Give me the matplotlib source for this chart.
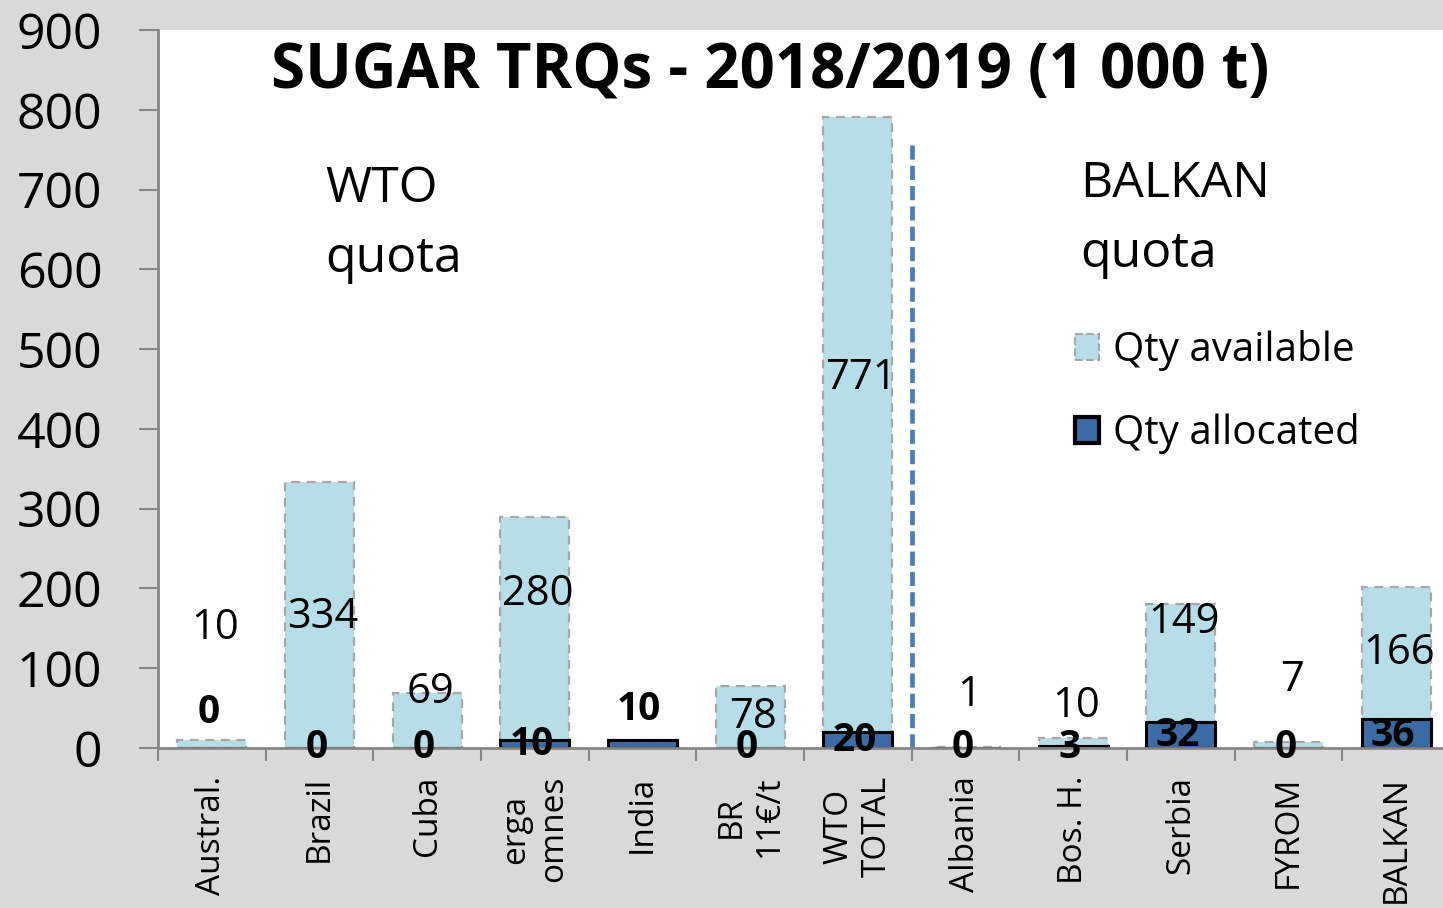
import numpy as np
import matplotlib.pyplot as plt
from matplotlib.patches import Patch

plt.rcParams['font.family'] = ['Open Sans', 'DejaVu Sans']

# Data (1 000 t)
categories = ['Austral.', 'Brazil', 'Cuba', 'erga\nomnes', 'India', 'BR\n11€/t',
              'WTO\nTOTAL', 'Albania', 'Bos. H.', 'Serbia', 'FYROM', 'BALKAN']
allocated = [0, 0, 0, 10, 10, 0, 20, 0, 3, 32, 0, 36]
available = [10, 334, 69, 280, 0, 78, 771, 1, 10, 149, 7, 166]

# where the hand-placed data labels sit (y in data units), None = no label
avail_label_y = [150, 164, 70, 193, None, 39, 464, 66, 53, 158, 85, 119]
alloc_label_y = [45, 0, 0, 4, 48, 0, 10, 0, 0, 16, 0, 16]

LIGHT = '#b7dde8'
DARK = '#3b6aa5'
AXIS_GRAY = '#868686'
BG = '#d9d9d9'


def draw_bars(ax, x):
    ax.bar(x, allocated, width=0.64, color=DARK, edgecolor='black', linewidth=2.2, zorder=3)
    ax.bar(x, available, width=0.64, bottom=allocated, color=LIGHT, edgecolor='#a6a6a6',
           linewidth=1.6, linestyle=(0, (4, 3)), zorder=2)


def draw_labels(ax, x):
    for xi, v, y in zip(x, available, avail_label_y):
        if y is not None:
            ax.text(xi + 0.03, y, f'{v}', ha='center', va='center', fontsize=30, zorder=5)
    for xi, v, y in zip(x, allocated, alloc_label_y):
        ax.text(xi - 0.03, y, f'{v}', ha='center', va='center', fontsize=28,
                fontweight='bold', zorder=6)


fig = plt.figure(figsize=(14.43, 9.08), dpi=100, facecolor=BG)
ax = fig.add_axes([158 / 1443, 1 - 748 / 908, (1450 - 158) / 1443, (748 - 30) / 908])
ax.set_facecolor('white')

x = np.arange(len(categories))
draw_bars(ax, x)
draw_labels(ax, x)

# separator between WTO and BALKAN quotas
ax.plot([6.5, 6.5], [0, 762], color='#4a7ebb', linewidth=3.4, linestyle=(0, (3, 1.3)), zorder=4)

ax.set_xlim(-0.5, len(categories) - 0.5)
ax.set_ylim(0, 900)
ax.set_yticks(np.arange(0, 901, 100))
ax.tick_params(axis='y', labelsize=36, length=14, width=1.5, color=AXIS_GRAY, pad=26)
ax.set_xticks(np.arange(-0.5, len(categories), 1.0))
ax.set_xticklabels([])
ax.tick_params(axis='x', which='major', length=9, width=1.5, color=AXIS_GRAY)
ax.set_xticks(x, categories, minor=True, rotation=90, fontsize=24, va='top', ha='center')
ax.tick_params(axis='x', which='minor', length=0, pad=20)

for side in ['top', 'right']:
    ax.spines[side].set_visible(False)
for side in ['left', 'bottom']:
    ax.spines[side].set_color(AXIS_GRAY)
    ax.spines[side].set_linewidth(2)
    ax.spines[side].set_zorder(4)

fig.text(770 / 1443, 1 - 72 / 908, 'SUGAR TRQs - 2018/2019 (1 000 t)', ha='center', va='center',
         fontsize=44.5, fontweight='bold')
ax.text(325 / 1443, 1 - 224 / 908, 'WTO\nquota', transform=fig.transFigure, ha='left', va='center',
        fontsize=36, linespacing=1.55)
ax.text(1080 / 1443, 1 - 219 / 908, 'BALKAN\nquota', transform=fig.transFigure, ha='left', va='center',
        fontsize=36, linespacing=1.55)

handles = [Patch(facecolor=LIGHT, edgecolor='#a6a6a6', linestyle='--', linewidth=1.5, label='Qty available'),
           Patch(facecolor=DARK, edgecolor='black', linewidth=3, label='Qty allocated')]
ax.legend(handles=handles, loc='upper left', bbox_to_anchor=(1075 / 1443, 1 - 330 / 908),
          bbox_transform=fig.transFigure, frameon=False, fontsize=29, handlelength=0.6,
          handleheight=0.6, handletextpad=0.35, labelspacing=1.05, borderpad=0, borderaxespad=0)

fig.savefig('out.png', dpi=100, facecolor=BG)
